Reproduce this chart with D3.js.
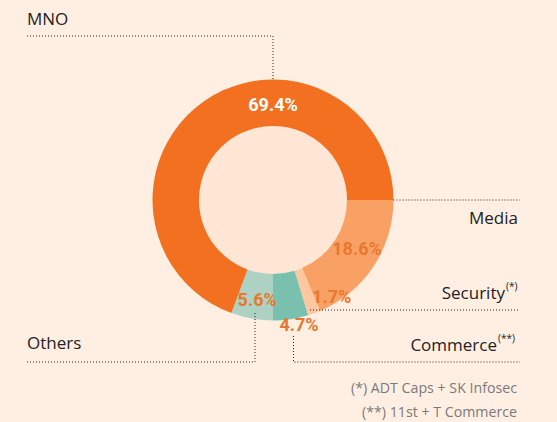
<!DOCTYPE html>
<html>
<head>
<meta charset="utf-8">
<script src="https://cdn.jsdelivr.net/npm/d3@7"></script>
<style>
  body { margin: 0; background: #feefe2; }
  text { font-family: "Open Sans", sans-serif; }
</style>
</head>
<body>
<div id="corpo"></div>
<script>
// data
var categories = ["Media", "Security", "Commerce", "Others", "MNO"];
var values = [18.6, 1.7, 4.7, 5.6, 69.4];
var notes = ["(*) ADT Caps + SK Infosec", "(**) 11st + T Commerce"];

var width = 557, height = 422;
var cx = 273, cy = 200;
var radius = 120.5, inner = 74;

function color(tipo){
    var colors = {
        "MNO": "#f37021",
        "Media": "#f9a064",
        "Security": "#fdc8a0",
        "Commerce": "#79c0ae",
        "Others": "#add2c3"
    };
    return colors[tipo];
}

var svg = d3.select("#corpo").append("svg")
    .attr("width", width)
    .attr("height", height);

var g = svg.append("g")
    .attr("transform", "translate(" + cx + "," + cy + ")");

var pie = d3.pie()
    .sort(null)
    .startAngle(Math.PI / 2)
    .endAngle(Math.PI * 2.5)
    .value(function(d) { return d.valor; });

var data = categories.map(function(c, i){ return {tipo: c, valor: values[i]}; });
var arcs = pie(data);

var arc = d3.arc().outerRadius(radius).innerRadius(inner);

g.append("circle").attr("r", inner).attr("fill", "#ffe6d5");

g.selectAll(".arc")
    .data(arcs)
    .enter().append("path")
    .attr("class", "arc")
    .attr("d", arc)
    .style("fill", function(d) { return color(d.data.tipo); });

// label placement: angle (deg) and radius from centre
var labelAt = {
    "MNO": [0, 95],
    "Media": [120, 97],
    "Security": [148.7, 113],
    "Commerce": [168.2, 127],
    "Others": [189, 101]
};

g.selectAll(".pct")
    .data(arcs)
    .enter().append("text")
    .attr("class", "pct")
    .attr("transform", function(d) {
        var p = labelAt[d.data.tipo];
        var a = p[0] * Math.PI / 180;
        return "translate(" + (Math.sin(a) * p[1]) + "," + (-Math.cos(a) * p[1]) + ")";
    })
    .attr("text-anchor", "middle")
    .attr("dy", ".36em")
    .style("font-family", "Roboto, sans-serif")
    .style("font-weight", "bold")
    .style("font-size", "18px")
    .style("fill", function(d) { return d.data.tipo == "MNO" ? "#fff" : "#e8782f"; })
    .text(function(d) { return d.data.valor.toFixed(1) + "%"; });

// leader lines
var lines = [
    [[27, 36], [cx, 36], [cx, cy - radius]],
    [[cx + radius, cy], [520, cy]],
    [[310, 310], [520, 310]],
    [[293.5, 336], [293.5, 362], [520, 362]],
    [[255, 313], [255, 362], [27, 362]]
];
svg.selectAll(".lead")
    .data(lines)
    .enter().append("path")
    .attr("class", "lead")
    .attr("d", d3.line())
    .attr("fill", "none")
    .attr("stroke", "#222")
    .attr("stroke-width", 1)
    .attr("stroke-dasharray", "1,2");

// category names
var names = [
    {t: "MNO", x: 27, y: 25, a: "start"},
    {t: "Media", x: 518, y: 224, a: "end"},
    {t: "Security", x: 505, y: 299, a: "end", s: "(*)"},
    {t: "Commerce", x: 497, y: 351, a: "end", s: "(**)"},
    {t: "Others", x: 27, y: 349, a: "start"}
];
svg.selectAll(".name")
    .data(names)
    .enter().append("text")
    .attr("class", "name")
    .attr("x", function(d){ return d.x; })
    .attr("y", function(d){ return d.y; })
    .attr("text-anchor", function(d){ return d.a; })
    .style("font-size", "17px")
    .style("fill", "#222")
    .text(function(d){ return d.t; });

svg.selectAll(".sup")
    .data(names.filter(function(d){ return d.s; }))
    .enter().append("text")
    .attr("class", "sup")
    .attr("x", function(d){ return d.x + 1; })
    .attr("y", function(d){ return d.y - 9; })
    .style("font-size", "10px")
    .style("fill", "#222")
    .text(function(d){ return d.s; });

svg.selectAll(".note")
    .data(notes)
    .enter().append("text")
    .attr("class", "note")
    .attr("x", 517)
    .attr("y", function(d, i){ return 393 + i * 24; })
    .attr("text-anchor", "end")
    .style("font-size", "14.2px")
    .style("fill", "#7a7a7a")
    .text(function(d){ return d; });
</script>
</body>
</html>
